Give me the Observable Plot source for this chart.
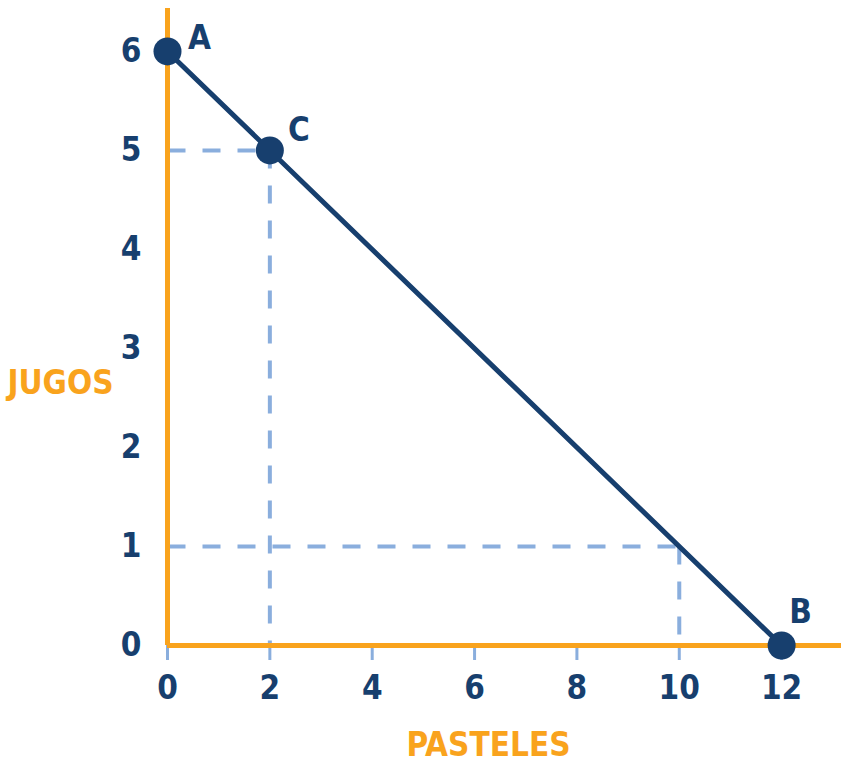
<!DOCTYPE html>
<html>
<head>
<meta charset="utf-8">
<script src="https://cdn.jsdelivr.net/npm/d3@7"></script>
<script src="https://cdn.jsdelivr.net/npm/@observablehq/plot@0.6"></script>
<style>
  html, body { margin: 0; padding: 0; background: #fff; }
  #chart svg { display: block; }
  #chart svg text { font-stretch: condensed; }
</style>
</head>
<body>
<div id="chart"></div>
<script>
// Frontier points
const pointNames = ["A", "C", "B"];
const pasteles = [0, 2, 12];
const jugos = [6, 5, 0];

// Guide (dashed) segments: [x1, y1, x2, y2]
const guideX1 = [0, 2, 0, 10];
const guideY1 = [5, 5, 1, 1];
const guideX2 = [2, 2, 10, 10];
const guideY2 = [5, 0, 1, 0];

// Tick values
const xTicks = [0, 2, 4, 6, 8, 10, 12];
const yTicks = [0, 1, 2, 3, 4, 5, 6];

const xLabel = "PASTELES";
const yLabel = "JUGOS";

const navy = "#173f6e";
const orange = "#f9a31d";
const lightBlue = "#8aaedd";
const font = "'DejaVu Sans Condensed', 'Liberation Sans Narrow', sans-serif";

const points = pointNames.map((n, i) => ({name: n, x: pasteles[i], y: jugos[i]}));
const guides = guideX1.map((_, i) => ({x1: guideX1[i], y1: guideY1[i], x2: guideX2[i], y2: guideY2[i]}));

const labelOffsets = {A: [32, -13], C: [29, -20], B: [19, -33]};
const fs = 33;

const chart = Plot.plot({
  width: 841,
  height: 768,
  marginLeft: 167,
  marginRight: 0,
  marginTop: 8,
  marginBottom: 123,
  style: {fontFamily: font, background: "white"},
  x: {domain: [0, 13.17]},
  y: {domain: [0, 6.434]},
  marks: [
    Plot.axisX({ticks: xTicks, tickFormat: "d", tickSize: 15, tickPadding: 15, stroke: lightBlue, strokeWidth: 3, strokeOpacity: 1,
      fill: navy, fontSize: fs, fontWeight: "bold", label: null}),
    Plot.axisY({ticks: yTicks, tickFormat: "d", tickSize: 0, tickPadding: 26, fill: navy, fontSize: fs, fontWeight: "bold", label: null}),
    Plot.link(guides, {x1: "x1", y1: "y1", x2: "x2", y2: "y2", stroke: lightBlue, strokeWidth: 4, strokeDasharray: "18,17"}),
    Plot.ruleY([0], {stroke: orange, strokeWidth: 5}),
    Plot.ruleX([0], {stroke: orange, strokeWidth: 5}),
    Plot.line(points.filter(d => d.name !== "C").sort((a, b) => a.x - b.x), {x: "x", y: "y", stroke: navy, strokeWidth: 5}),
    Plot.dot(points, {x: "x", y: "y", r: 14, fill: navy}),
    ...pointNames.map(n => Plot.text(points.filter(d => d.name === n), {
      x: "x", y: "y", text: "name", fill: navy, fontSize: fs, fontWeight: "bold",
      dx: labelOffsets[n][0], dy: labelOffsets[n][1], textAnchor: "middle"
    })),
    Plot.text([yLabel], {frameAnchor: "left", dx: -107, dy: 56, text: d => d, fill: orange, fontSize: fs, fontWeight: "bold", textAnchor: "middle"}),
    Plot.text([xLabel], {frameAnchor: "bottom", dx: -16, dy: 110, text: d => d, fill: orange, fontSize: fs, fontWeight: "bold", textAnchor: "middle"})
  ]
});
document.getElementById("chart").appendChild(chart);
</script>
</body>
</html>
